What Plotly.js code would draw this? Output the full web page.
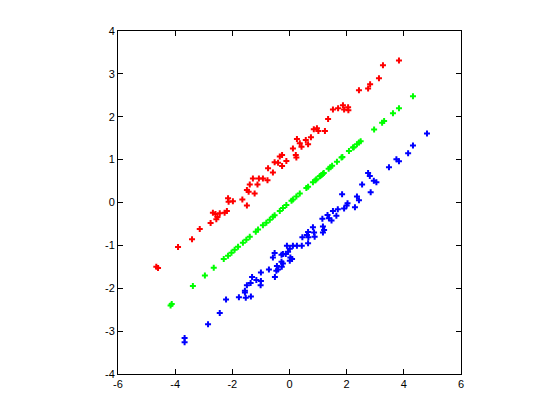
<!DOCTYPE html>
<html>
<head>
<meta charset="utf-8">
<script src="https://cdn.plot.ly/plotly-3.0.1.min.js"></script>
<style>html,body{margin:0;padding:0;background:#fff;}#chart{width:560px;height:420px;}</style>
</head>
<body>
<div id="chart"></div>
<script>
// Red series
var redX = [-4.66,-4.60,-3.90,-3.41,-3.14,-2.76,-2.68,-2.59,-2.52,-2.56,-2.44,-2.27,-2.19,-2.15,-2.13,-1.98,-1.65,-1.49,-1.49,-1.43,-1.22,-1.39,-1.28,-1.12,-1.07,-0.93,-0.77,-0.75,-0.58,-0.52,-0.40,-0.34,-0.26,-0.11,-0.26,0.12,0.22,0.24,0.42,0.36,0.26,0.57,0.65,0.75,0.85,0.96,1.01,1.24,1.35,1.52,1.70,1.87,1.91,2.05,2.06,2.43,2.75,2.82,3.13,3.27,3.83];
var redY = [-1.50,-1.53,-1.04,-0.86,-0.62,-0.48,-0.24,-0.27,-0.34,-0.39,-0.25,-0.24,-0.20,0.10,0.02,0.03,0.07,-0.07,0.29,0.25,0.21,0.42,0.56,0.42,0.56,0.56,0.52,0.80,0.70,0.94,0.93,1.07,1.11,0.97,0.85,1.26,1.11,1.05,1.30,1.38,1.48,1.46,1.36,1.52,1.71,1.73,1.67,1.67,1.95,2.17,2.20,2.27,2.17,2.22,2.15,2.62,2.66,2.76,2.90,3.20,3.31];

// Green series
var greenX = [-4.16,-4.12,-3.38,-2.96,-2.65,-2.30,-2.15,-2.03,-1.92,-1.80,-1.63,-1.51,-1.39,-1.18,-1.10,-0.93,-0.81,-0.69,-0.58,-0.52,-0.34,-0.23,-0.11,0.07,0.12,0.24,0.36,0.59,0.65,0.82,0.91,0.94,1.06,1.08,1.12,1.17,1.20,1.37,1.43,1.49,1.66,1.82,1.85,2.08,2.22,2.25,2.36,2.43,2.49,2.96,3.24,3.31,3.62,3.83,4.32];
var greenY = [-2.40,-2.37,-1.95,-1.70,-1.52,-1.32,-1.24,-1.17,-1.10,-1.03,-0.94,-0.87,-0.80,-0.68,-0.63,-0.53,-0.47,-0.40,-0.33,-0.30,-0.20,-0.13,-0.06,0.04,0.07,0.14,0.21,0.34,0.37,0.47,0.52,0.54,0.61,0.62,0.64,0.67,0.69,0.79,0.82,0.86,0.95,1.05,1.06,1.20,1.28,1.29,1.36,1.40,1.43,1.70,1.86,1.90,2.08,2.20,2.48];

// Blue series
var blueX = [-3.67,-3.67,-2.85,-2.44,-2.22,-1.77,-1.53,-1.35,-1.56,-1.56,-1.49,-1.36,-1.31,-1.16,-1.00,-1.01,-1.00,-0.72,-0.51,-0.46,-0.40,-0.44,-0.27,-0.23,-0.28,0.01,0.09,0.03,-0.58,-0.52,-0.28,-0.23,-0.13,-0.05,-0.09,0.01,0.12,0.26,0.43,0.45,0.65,0.61,0.66,0.65,0.82,0.86,0.88,1.17,1.21,1.17,1.15,1.33,1.38,1.47,1.52,1.69,1.64,1.91,2.00,2.03,2.29,1.84,2.36,2.43,2.54,2.84,2.75,2.81,2.95,3.04,3.48,3.74,3.83,4.15,4.32,4.81];
var blueY = [-3.16,-3.26,-2.84,-2.58,-2.26,-2.21,-2.22,-2.19,-2.06,-2.10,-1.93,-1.88,-1.74,-1.81,-1.83,-1.93,-1.63,-1.56,-1.74,-1.59,-1.56,-1.48,-1.50,-1.42,-1.38,-1.36,-1.32,-1.28,-1.28,-1.18,-1.22,-1.20,-1.20,-1.15,-1.01,-1.08,-1.01,-1.01,-1.01,-0.81,-0.95,-0.76,-0.81,-0.69,-0.58,-0.70,-0.80,-0.56,-0.64,-0.70,-0.38,-0.29,-0.37,-0.42,-0.20,-0.16,-0.31,-0.14,-0.07,-0.02,-0.11,0.19,0.14,0.05,0.42,0.24,0.69,0.62,0.51,0.47,0.82,1.01,0.96,1.15,1.33,1.61];

// Tick labels
var xTickVals = [-6,-4,-2,0,2,4,6];
var xTickText = ["-6","-4","-2","0","2","4","6"];
var yTickVals = [-4,-3,-2,-1,0,1,2,3,4];
var yTickText = ["-4","-3","-2","-1","0","1","2","3","4"];

function series(x, y, color) {
  return {
    x: x, y: y, type: 'scatter', mode: 'markers',
    marker: {symbol: 'cross', size: 5, color: color, line: {width: 0}},
    hoverinfo: 'x+y', showlegend: false
  };
}

var axisCommon = {
  showgrid: false, zeroline: false, showline: true, linecolor: '#000', linewidth: 1,
  mirror: 'ticks', ticks: 'inside', ticklen: 5, tickwidth: 1, tickcolor: '#000',
  tickfont: {family: 'Liberation Sans, Arial, sans-serif', size: 11, color: '#000'},
  tickmode: 'array', fixedrange: true
};

var layout = {
  width: 560, height: 420,
  margin: {l: 118, r: 99, t: 31, b: 46, pad: 0},
  paper_bgcolor: '#fff', plot_bgcolor: '#fff',
  xaxis: Object.assign({}, axisCommon, {range: [-6, 6], tickvals: xTickVals, ticktext: xTickText}),
  yaxis: Object.assign({}, axisCommon, {range: [-4, 4], tickvals: yTickVals, ticktext: yTickText}),
  showlegend: false
};

Plotly.newPlot('chart', [series(redX, redY, '#ff0000'), series(greenX, greenY, '#00ff00'), series(blueX, blueY, '#0000ff')], layout, {displayModeBar: false, staticPlot: true});
</script>
</body>
</html>
